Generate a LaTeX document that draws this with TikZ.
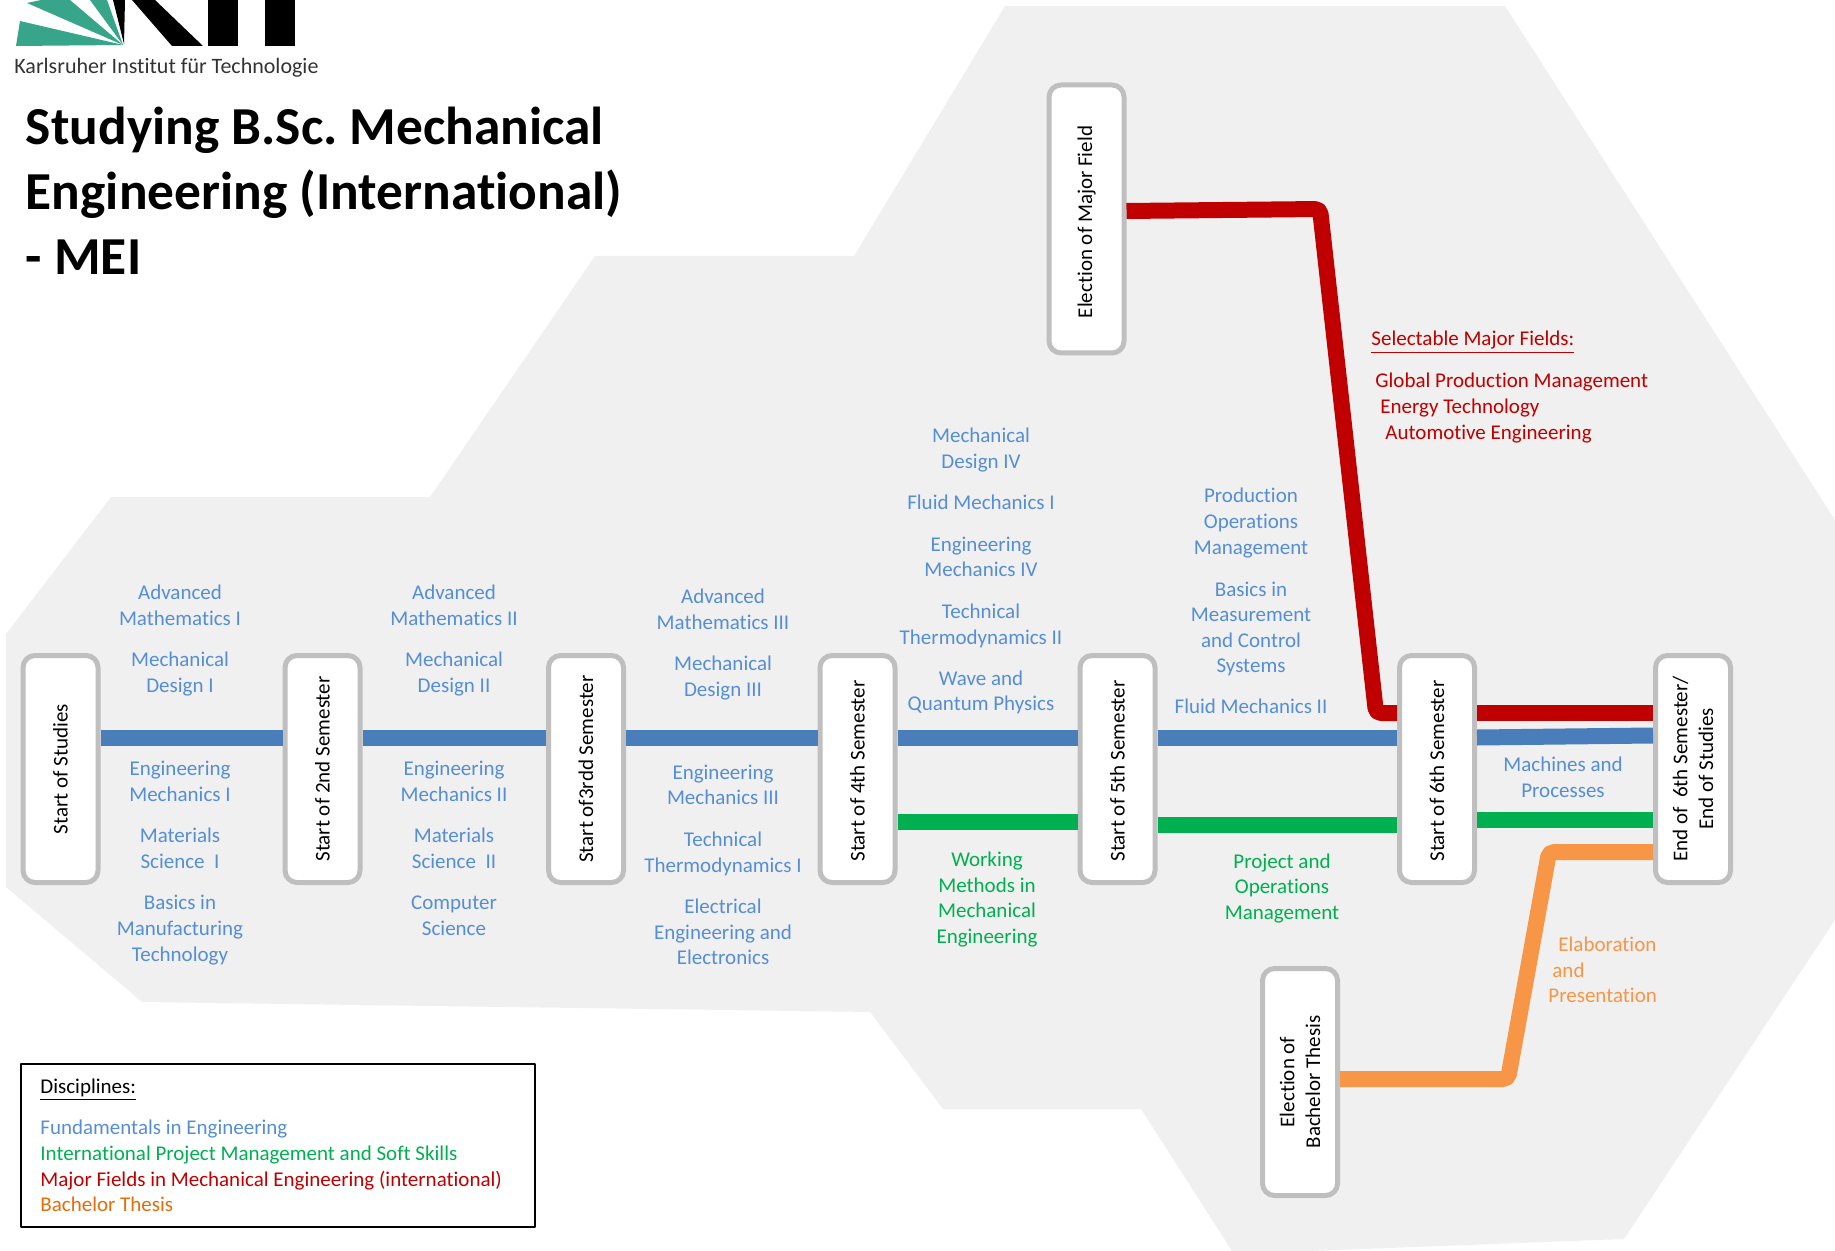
\documentclass[tikz,border=0pt]{standalone}
\usepackage{fontspec}
\setmainfont[Ligatures=NoCommon]{Carlito}
\usepackage{xcolor}
\definecolor{myblue}{HTML}{4A7EBB}
\definecolor{mytext}{HTML}{558ED5}
\definecolor{mygreen}{HTML}{00B050}
\definecolor{myred}{HTML}{C00000}
\definecolor{myorange}{HTML}{F79646}
\definecolor{mydark}{HTML}{E46C0A}
\definecolor{myframe}{HTML}{BFBFBF}
\definecolor{myback}{HTML}{F0F0F0}
\definecolor{mylogo}{HTML}{36A58A}
\tikzset{>=latex}

\begin{document}
\frenchspacing
\begin{tikzpicture}[
	x=0.5pt, y=-0.5pt,
	line join=round,
	body/.style={font=\fontsize{10.5}{12.8}\selectfont},
	semester/.style={body, draw=myframe, fill=white, line width=2.5pt, rounded corners=6pt,
		rotate=90, minimum width=113.5pt, minimum height=37.5pt, inner sep=0pt, align=center},
	subject/.style={body, text=mytext, align=center, inner sep=0pt},
	rail/.style={line width=8pt},
	bendrail/.style={rail, rounded corners=2.5pt}
]
	\useasboundingbox (0,0) rectangle (1835,1251);

	% background
	\fill[myback] (6,634) -- (111,497) -- (430,497) -- (595,256) -- (854,256) -- (1005,6) -- (1505,6)
		-- (1835,520) -- (1835,920) -- (1624,1239) -- (1311,1251) -- (1232,1251) -- (1141,1109)
		-- (943,1109) -- (870,1012) -- (142,1002) -- (6,887) -- cycle;

	% logo
	\fill[mylogo] (123,45) -- (20,21) -- (16,46) -- cycle;
	\fill[mylogo] (123,45) -- (27,3) -- (41,0) -- (70,0) -- cycle;
	\fill[mylogo] (123,45) -- (90,0) -- (107,0) -- cycle;
	\fill[black] (124,44) -- (113,0) -- (125,0) -- cycle;
	\fill[black] (132,0) -- (155,0) -- (203,46) -- (172,46) -- cycle;
	\fill[black] (208,0) rectangle (238,46);
	\fill[black] (265,0) rectangle (295,46);
	\node[anchor=base west, inner sep=0pt, text=black!80, font=\fontsize{11}{13}\selectfont] (kit) at (14,74)
		{Karlsruher Institut für Technologie};

	% title
	\node[anchor=north west, inner sep=0pt, align=left, font=\fontsize{26.7}{32.3}\bfseries\selectfont] (title) at (25.5,107)
		{Studying B.Sc. Mechanical\\Engineering (International)\\- MEI};

	% semesters
	\foreach \nm/\xc/\txt in {s1/60.5/Start of Studies, s2/322.5/Start of 2nd Semester,
		s3/586/Start of3rdd Semester, s4/857.5/{Start of 4th Semester\hspace*{2pt}},
		s5/1117.5/{Start of 5th Semester\hspace*{2pt}}, s6/1437/{Start of 6th Semester\hspace*{2pt}},
		s7/1693/{End of\ \ 6th Semester/\\End of Studies}}
		\node[semester] (\nm) at (\xc,769) {\txt};
	\node[semester, minimum width=134pt] (major) at (1086.5,219) {Election of Major Field\hspace*{3pt}};
	\node[semester] (thesis) at (1300,1082) {Election of\\Bachelor Thesis};

	% rails
	\coordinate (lineblue) at (0,737.5);
	\coordinate (linegreen) at (0,823);
	\coordinate (linered) at (0,713);
	\coordinate (lineorange) at (0,852);
	\foreach \a/\b in {s1/s2,s2/s3,s3/s4,s4/s5,s5/s6}
		\draw[rail,myblue] (\a.south |- lineblue) -- (\b.north |- lineblue);
	\draw[rail,myblue] (s6.south |- lineblue) -- ([yshift=1pt]s7.north |- lineblue);
	\draw[rail,mygreen] ([yshift=0.5pt]s4.south |- linegreen) -- ([yshift=0.5pt]s5.north |- linegreen);
	\draw[rail,mygreen] ([yshift=-1pt]s5.south |- linegreen) -- ([yshift=-1pt]s6.north |- linegreen);
	\draw[rail,mygreen] ([yshift=1.5pt]s6.south |- linegreen) -- ([yshift=1.5pt]s7.north |- linegreen);
	\draw[rail,myred] (s6.south |- linered) -- (s7.north |- linered);
	\coordinate (redtop) at (1320,209);
	\coordinate (redbottom) at (1376,713);
	\draw[bendrail,myred] ([yshift=4pt]major.south) -- (redtop) -- (redbottom) -- (s6.north |- linered);
	\coordinate (orangelow) at (1508,1079);
	\coordinate (orangehigh) at (1549,852);
	\draw[bendrail,myorange] (thesis.south |- orangelow) -- (orangelow) -- (orangehigh) -- (s7.north |- lineorange);

	% subjects
	\foreach \nm/\xc/\yc/\txt in {
		a1/180/605.5/{Advanced\\Mathematics I}, b1/180/674/{Mechanical\\Design I},
		c1/180/781.5/{Engineering\\Mechanics I}, d1/180/848/{Materials\\Science\ \ I},
		e1/180/930/{Basics in\\Manufacturing\\Technology},
		a2/454/605.5/{Advanced\\Mathematics II}, b2/454/674/{Mechanical\\Design II},
		c2/454/781.5/{Engineering\\Mechanics II}, d2/454/848/{Materials\\Science\ \ II},
		e2/454/916/{Computer\\Science},
		a3/723/609.5/{Advanced\\Mathematics III}, b3/723/678/{Mechanical\\Design III},
		c3/723/785/{Engineering\\Mechanics III}, d3/723/854/{Technical\\Thermodynamics I},
		e3/723/932/{Electrical\\Engineering and\\Electronics},
		a4/981/450/{Mechanical\\Design IV}, b4/981/502/{Fluid Mechanics I},
		c4/981/557/{Engineering\\Mechanics IV}, d4/981/626/{Technical\\Thermodynamics II},
		e4/981/692.5/{Wave and\\Quantum Physics},
		a5/1251/523/{Production\\Operations\\Management}, b5/1251/629/{Basics in\\Measurement\\and Control\\Systems},
		c5/1251/706/{Fluid Mechanics II},
		a6/1563/777.5/{Machines and\\Processes}}
		\node[subject] (\nm) at (\xc,\yc) {\txt};
	\node[subject, text=mygreen] (work) at (987,899.5) {Working\\Methods in\\Mechanical\\Engineering};
	\node[subject, text=mygreen] (project) at (1282,888.5) {Project and\\Operations\\Management};
	\node[subject, text=myorange, align=left, anchor=west] (elab) at (1548,970)
		{\hspace*{5pt}Elaboration\\\hspace*{2pt}and\\Presentation};

	% major fields
	\node[body, text=myred, anchor=base west, inner sep=0pt] (fieldhead) at (1371,346) {\underline{Selectable Major Fields:}};
	\node[subject, text=myred, align=left, anchor=west] (fields) at (1375,408)
		{Global Production Management\\\hspace*{2.5pt}Energy Technology\\\hspace*{5pt}Automotive Engineering};

	% legend
	\node[draw=black, line width=1pt, minimum width=257pt, minimum height=81.5pt, anchor=north west] (legend) at (20,1063) {};
	\node[body, anchor=base west, inner sep=0pt] (legendhead) at (40,1093) {\underline{Disciplines:}};
	\node[body, anchor=north west, inner sep=0pt, align=left] (legendtext) at (40,1120)
		{\textcolor{mytext}{Fundamentals in Engineering}\\
		\textcolor{mygreen}{International Project Management and Soft Skills}\\
		\textcolor{myred}{Major Fields in Mechanical Engineering (international)}\\
		\textcolor{mydark}{Bachelor Thesis}};
\end{tikzpicture}
\end{document}
